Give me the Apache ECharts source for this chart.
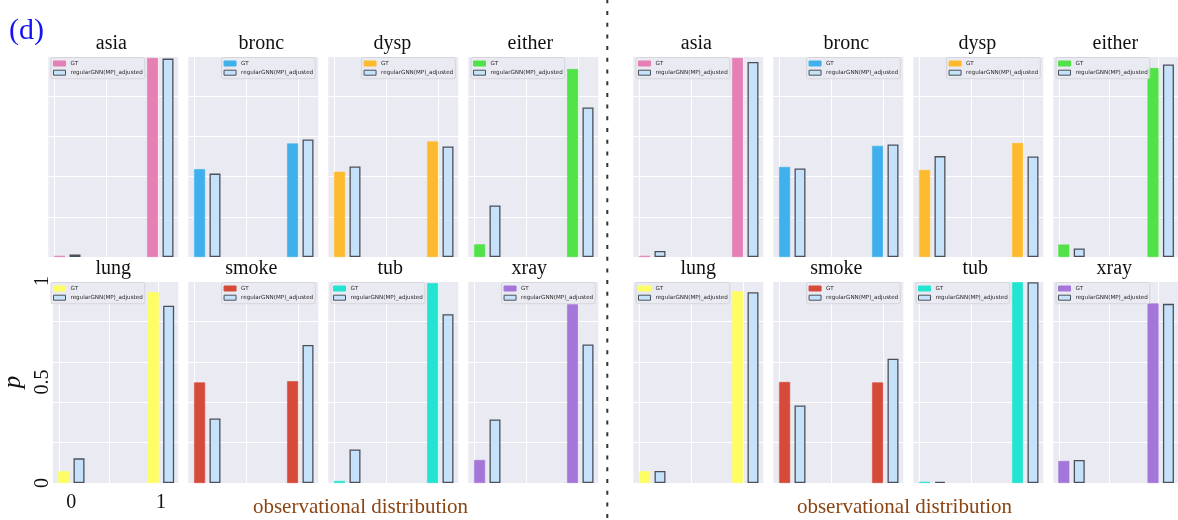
<!DOCTYPE html>
<html>
<head>
<meta charset="utf-8">
<script src="https://cdn.jsdelivr.net/npm/echarts@6/dist/echarts.min.js"></script>
<style>
  html, body { margin: 0; padding: 0; background: #fff; }
  #chart { width: 1178px; height: 520px; }
</style>
</head>
<body>
<div id="chart"></div>
<script>
// variables (one small panel each), two states per variable
const nodes = ['asia', 'bronc', 'dysp', 'either', 'lung', 'smoke', 'tub', 'xray']
const states = [0, 1]
const yTicks = [0, 0.5, 1]
const xLabel = 'observational distribution'

// left block
const gtLeft = [[0.006, 0.99], [0.437, 0.565], [0.424, 0.575], [0.063, 0.935],
  [0.058, 0.944], [0.498, 0.504], [0.01, 0.989], [0.114, 0.885]]
const adjLeft = [[0.013, 0.987], [0.415, 0.585], [0.45, 0.55], [0.256, 0.744],
  [0.122, 0.878], [0.319, 0.683], [0.166, 0.836], [0.314, 0.686]]
// right block
const gtRight = [[0.006, 0.99], [0.448, 0.553], [0.433, 0.567], [0.062, 0.94],
  [0.058, 0.949], [0.5, 0.498], [0.006, 0.994], [0.109, 0.889]]
const adjRight = [[0.03, 0.97], [0.44, 0.56], [0.502, 0.5], [0.042, 0.958],
  [0.06, 0.944], [0.384, 0.615], [0.006, 0.994], [0.114, 0.887]]

// styles / layout
const gtColors = ['#E480B4', '#40B0EC', '#FEBA2E', '#50E248', '#FEFE64', '#D64A3A', '#22E4D0', '#A476DA']
const adjColor = '#C6E2FA'
const adjBorder = '#4A5059'
const serif = "'Liberation Serif', 'DejaVu Serif', serif"
const blockLeft = [48.3, 633.3]
const colStep = 140
const panelW = 130
const rowTop = [56, 281]
const rowH = [201, 202]
const xMin = -0.2043
const xMax = 1.1935
const xGrid = [-0.14, 0.424, 0.975] // vertical white grid lines
const legendSide = [
  ['l', 'r', 'r', 'l', 'l', 'r', 'l', 'r'],
  ['l', 'r', 'r', 'l', 'l', 'r', 'l', 'l']
]
const titleDx = [-2, 8, -1, -3, 0, -2, -3, -4]

let chart = echarts.init(document.getElementById('chart'))

let grid = [], xAxis = [], yAxis = [], series = [], legend = [], graphic = []
const blocks = [[gtLeft, adjLeft], [gtRight, adjRight]]

blocks.forEach((blk, b) => {
  nodes.forEach((node, i) => {
    const k = b * 8 + i
    const row = i < 4 ? 0 : 1
    const col = i % 4
    const left = blockLeft[b] + col * colStep
    const top = rowTop[row]
    const showAxisText = (b === 0 && i === 4) // only "lung" on the left carries labels

    grid.push({
      left: left, top: top, width: panelW, height: rowH[row],
      show: true, backgroundColor: '#EAEAF2', borderWidth: 0
    })
    xAxis.push({
      gridIndex: k, type: 'value', min: xMin, max: xMax,
      axisLine: { show: false },
      axisTick: { show: false, customValues: xGrid },
      splitLine: { show: true, lineStyle: { color: '#fff', width: 1 } },
      axisLabel: showAxisText
        ? { show: true, customValues: states, margin: 10, color: '#111', fontFamily: serif, fontSize: 20 }
        : { show: false }
    })
    yAxis.push({
      gridIndex: k, type: 'value', min: 0, max: 1, interval: 0.2,
      axisLine: { show: false },
      axisTick: { show: false },
      splitLine: { show: true, lineStyle: { color: '#fff', width: 1 } },
      axisLabel: showAxisText
        ? { show: true, customValues: yTicks, rotate: 90, margin: 0, color: '#111', fontFamily: serif, fontSize: 20 }
        : { show: false },
      name: showAxisText ? 'p' : '',
      nameLocation: 'middle',
      nameRotate: 90,
      nameGap: 27,
      nameTextStyle: { fontFamily: serif, fontStyle: 'italic', fontSize: 25, color: '#111' }
    })

    const gtName = 'GT#' + k
    const adjName = 'regularGNN(MP)_adjusted#' + k
    series.push({
      type: 'bar', name: gtName, xAxisIndex: k, yAxisIndex: k,
      barWidth: 11, barGap: '40%',
      itemStyle: { color: gtColors[i], borderColor: gtColors[i], borderWidth: 0.6 },
      data: states.map((s, j) => [s, blk[0][i][j]])
    })
    series.push({
      type: 'bar', name: adjName, xAxisIndex: k, yAxisIndex: k,
      barWidth: 11, barGap: '40%',
      itemStyle: { color: adjColor, borderColor: adjBorder, borderWidth: 1.3 },
      data: states.map((s, j) => [s, blk[1][i][j]])
    })

    let lg = {
      data: [gtName, adjName],
      orient: 'vertical',
      top: top + 1.5,
      itemWidth: 12, itemHeight: 5, itemGap: 3.2,
      padding: [3, 2, 3, 2],
      backgroundColor: 'rgba(234,234,242,0.85)',
      borderColor: '#cfcfd6', borderWidth: 0.8, borderRadius: 2,
      selectedMode: false,
      icon: 'rect',
      itemStyle: { borderWidth: 1 },
      formatter: name => name.split('#')[0],
      textStyle: { fontFamily: "'DejaVu Sans'", fontSize: 5.6, lineHeight: 6, color: '#262626' }
    }
    if (legendSide[b][i] === 'l') lg.left = left + 2.7
    else lg.right = 1178 - (left + panelW - 3)
    legend.push(lg)

    // panel title
    graphic.push({
      type: 'text', x: left + panelW / 2 + titleDx[i], y: row === 0 ? 44 : 269,
      style: { text: node, align: 'center', verticalAlign: 'middle', font: '20px ' + serif, fill: '#111' }
    })
  })
})

graphic.push({
  type: 'text', x: 9, y: 31,
  style: { text: '(d)', align: 'left', verticalAlign: 'middle', font: '30px ' + serif, fill: '#1414F5' }
})
graphic.push({
  type: 'text', x: 360.5, y: 507,
  style: { text: xLabel, align: 'center', verticalAlign: 'middle', font: '21px ' + serif, fill: '#8B4513' }
})
graphic.push({
  type: 'text', x: 904.5, y: 507,
  style: { text: xLabel, align: 'center', verticalAlign: 'middle', font: '21px ' + serif, fill: '#8B4513' }
})
// dotted separator between the two blocks
graphic.push({
  type: 'line', shape: { x1: 607.3, y1: 0, x2: 607.3, y2: 520 },
  style: { stroke: '#333', lineWidth: 2, lineDash: [4, 7.7], lineDashOffset: 0.7 }
})

chart.setOption({
  animation: false,
  grid: grid,
  xAxis: xAxis,
  yAxis: yAxis,
  legend: legend,
  series: series,
  graphic: graphic
})
</script>
</body>
</html>
